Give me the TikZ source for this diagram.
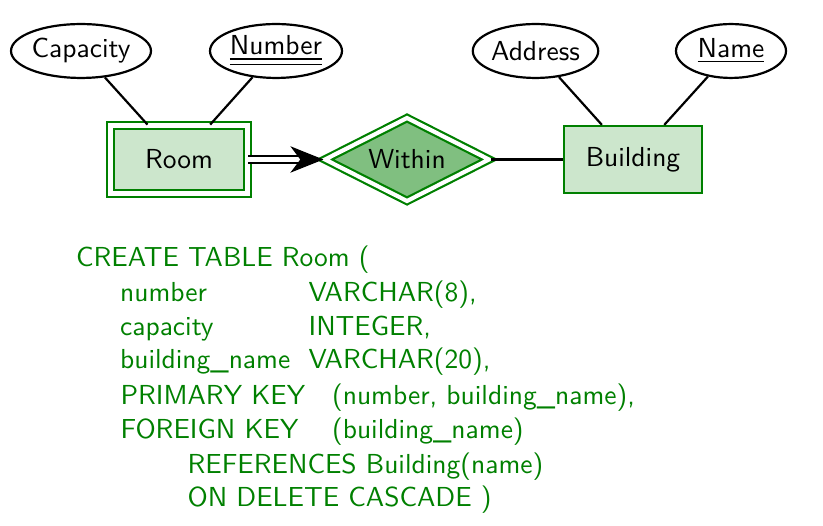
\documentclass[tikz,border=0pt]{standalone}
\usepackage{tikz}
\usetikzlibrary{shapes.geometric,arrows.meta}
\definecolor{ergreen}{RGB}{0,128,0}
\definecolor{erlight}{RGB}{204,230,204}
\definecolor{ermid}{RGB}{128,191,128}
\newcommand{\dunder}[1]{\underline{\underline{#1}}}

\begin{document}
\begin{tikzpicture}[x=0.36364pt, y=-0.36364pt,
    font=\sffamily\fontsize{10}{12}\selectfont,
    line width=0.8pt,
    attr/.style={ellipse, draw=black, inner sep=0pt, minimum height=19.6pt},
    entity/.style={rectangle, draw=ergreen, fill=erlight, inner sep=0pt},
    weakentity/.style={entity, double=white, double distance=1.8pt},
    idrel/.style={diamond, aspect=2, draw=ergreen, fill=ermid, double=white,
        double distance=1.5pt, inner sep=0pt, minimum width=60pt, minimum height=30.5pt},
    sql/.style={anchor=base west, inner sep=0pt, text=ergreen}
]
            \useasboundingbox (0,0) rectangle (823,526);
            % E-R part
            \node[attr, minimum width=50.9pt] (capacity) at (81,51) {Capacity};
            \node[attr, minimum width=48pt] (number) at (276,51) {\dunder{Number}};
            \node[weakentity, minimum width=49.7pt, minimum height=24.6pt] (room) at (179,159.5) {Room};
            \node[idrel] (within) at (407,159.5) {Within};
            \node[entity, minimum width=50.2pt, minimum height=24.4pt] (building) at (633,159.5) {Building};
            \node[attr, minimum width=45.5pt] (address) at (535.5,51) {Address};
            \node[attr, minimum width=40pt] (name) at (731,51) {\underline{Name}};
            \draw (capacity) -- (room);
            \draw (number) -- (room);
            \draw (address) -- (building);
            \draw (name) -- (building);
            \draw (within) -- (building);
            \draw[line width=0.7pt, double, double distance=1.7pt, -{Stealth[length=12pt, width=9.6pt, inset=3.6pt]}] (room) -- (within);
            % SQL part
            \node[sql] (create) at (75,266.7) {CREATE TABLE Room (};
            \node[sql] (colnum) at (119,301.7) {number};
            \node[sql] (typenum) at (307.5,301.7) {VARCHAR(8),};
            \node[sql] (colcap) at (119,335.5) {capacity};
            \node[sql] (typecap) at (307.5,335.5) {INTEGER,};
            \node[sql] (colbname) at (119,369) {building\_name};
            \node[sql] (typebname) at (307.5,369) {VARCHAR(20),};
            \node[sql] (pkey) at (119.5,404.3) {PRIMARY KEY};
            \node[sql] (pkeycols) at (331,404.3) {(number, building\_name),};
            \node[sql] (fkey) at (119.5,438.3) {FOREIGN KEY};
            \node[sql] (fkeycols) at (331,438.3) {(building\_name)};
            \node[sql] (refs) at (186.5,473) {REFERENCES Building(name)};
            \node[sql] (ondel) at (186.5,506) {ON DELETE CASCADE )};
        \end{tikzpicture}
\end{document}
